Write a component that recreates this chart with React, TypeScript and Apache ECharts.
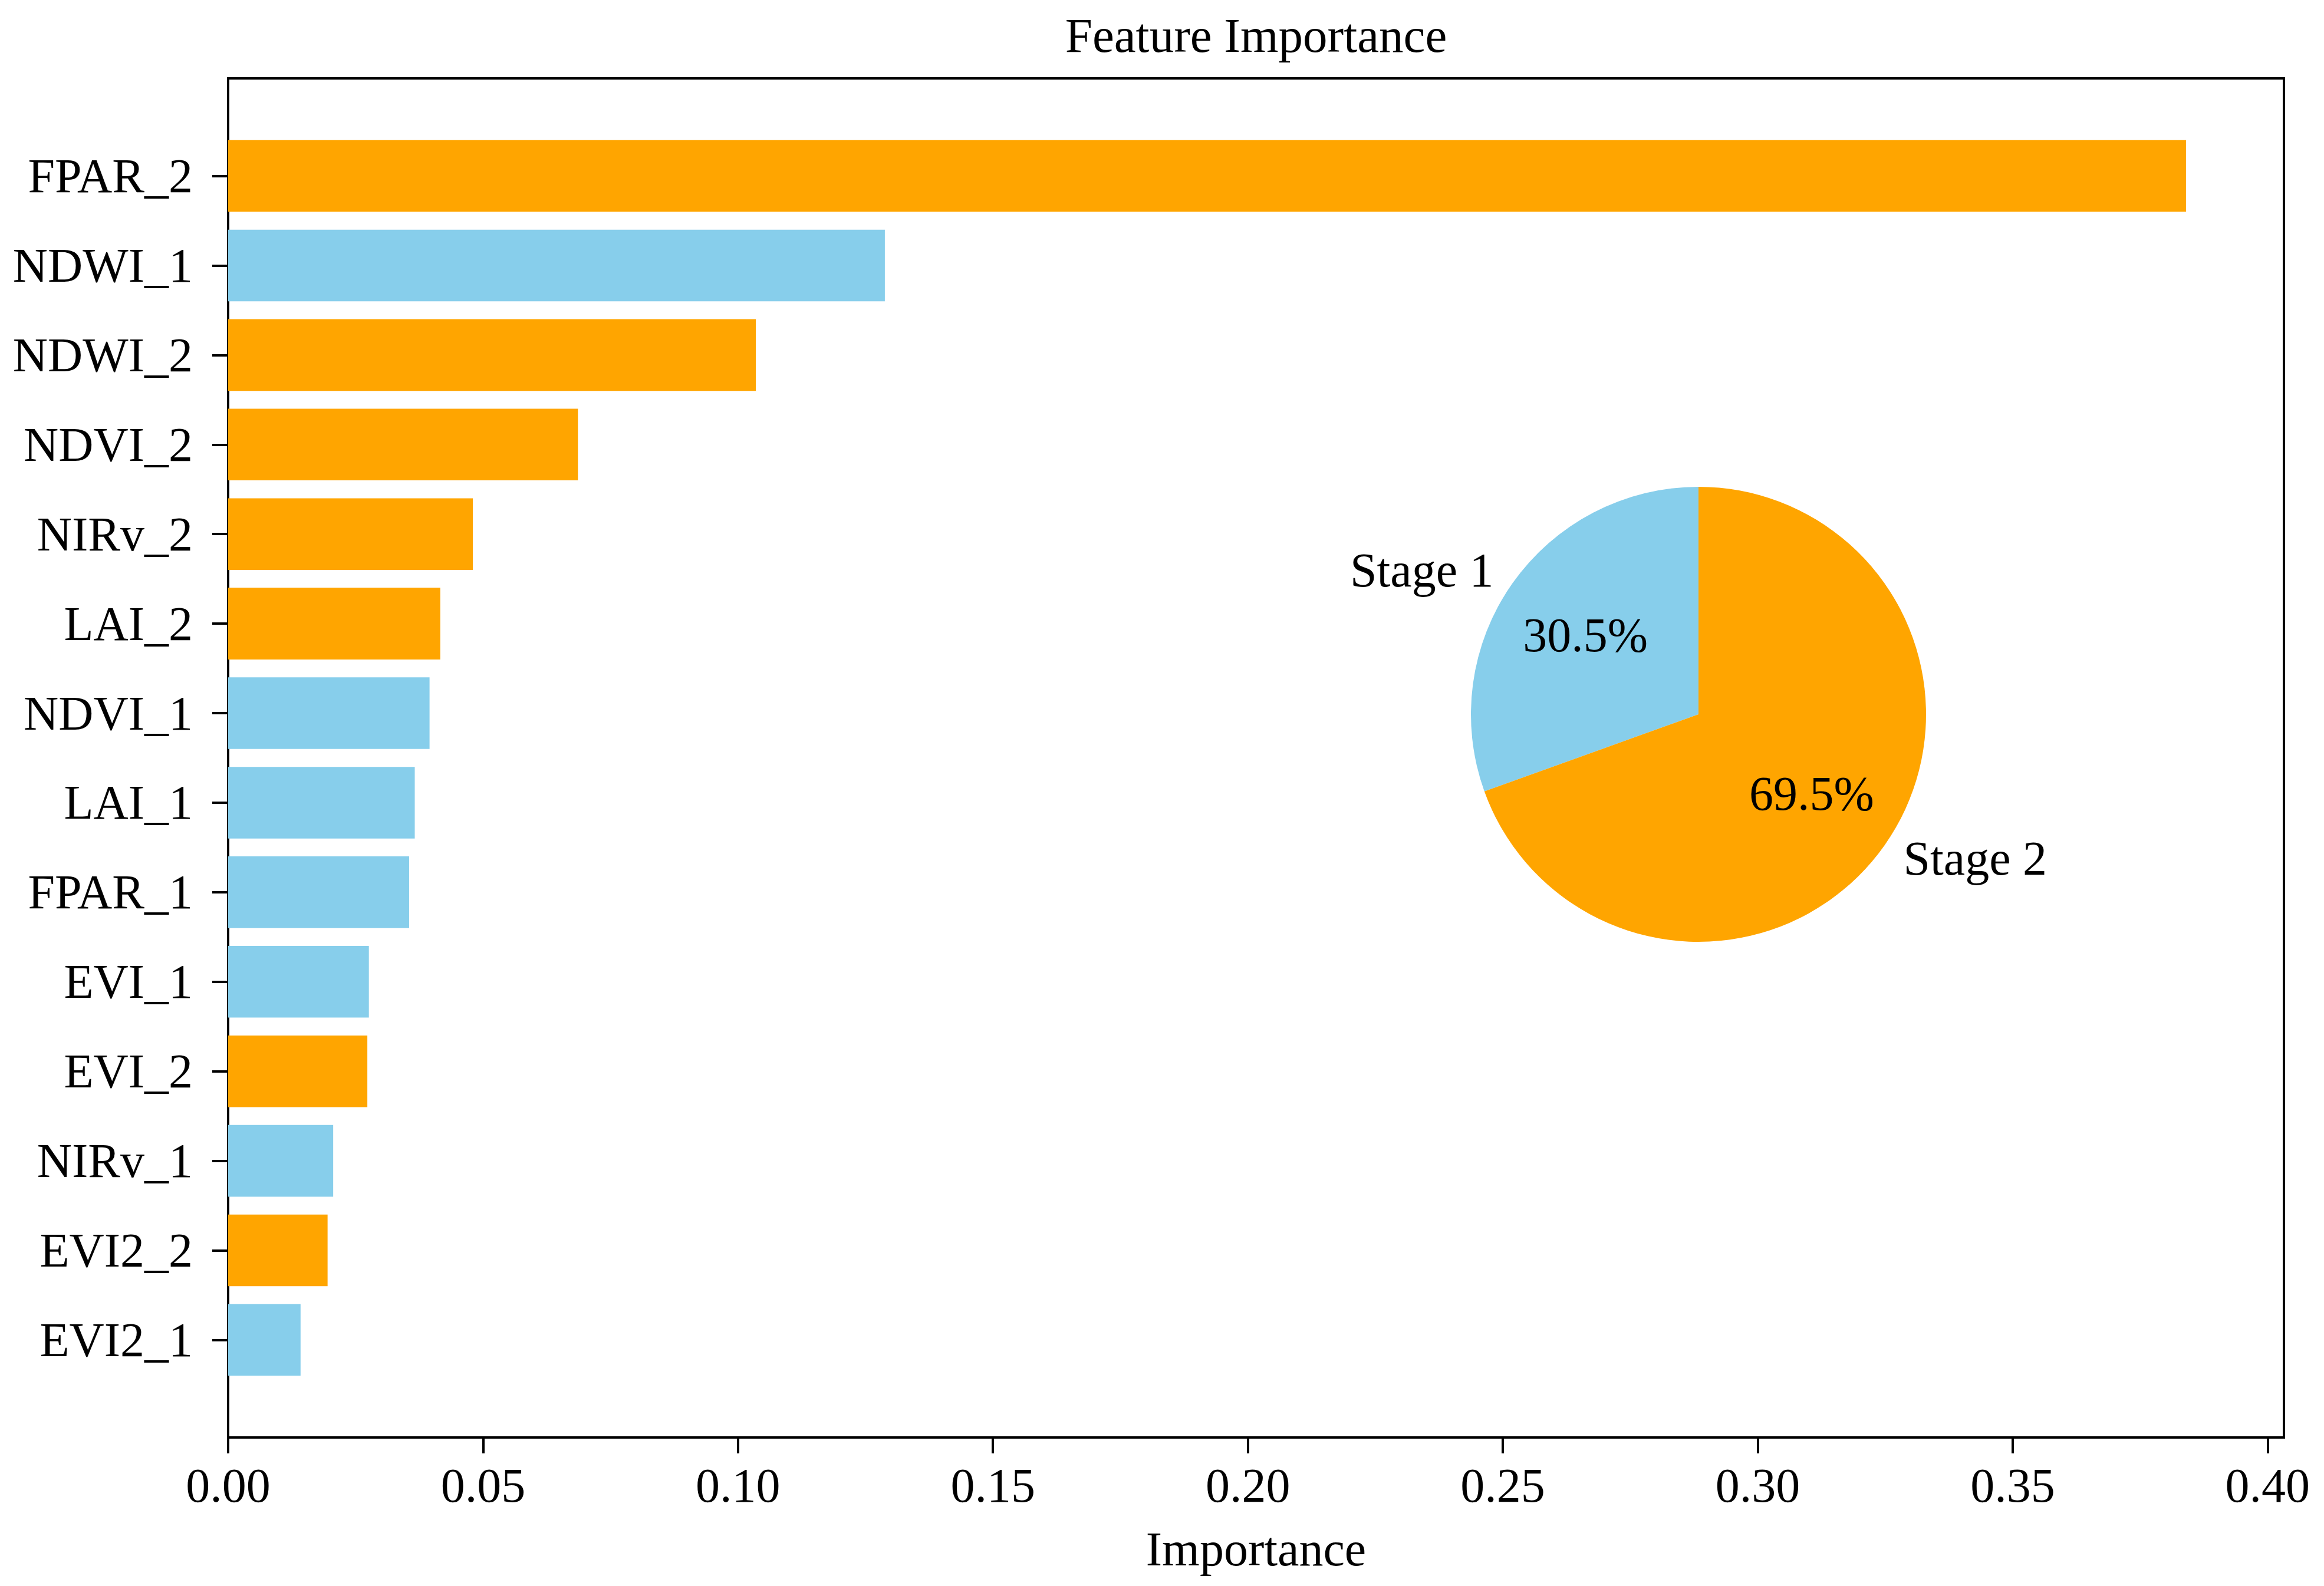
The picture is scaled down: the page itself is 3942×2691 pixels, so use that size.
import React, { useEffect, useRef } from "react";
import * as echarts from "echarts";

const features = [
  "FPAR_2", "NDWI_1", "NDWI_2", "NDVI_2", "NIRv_2", "LAI_2", "NDVI_1",
  "LAI_1", "FPAR_1", "EVI_1", "EVI_2", "NIRv_1", "EVI2_2", "EVI2_1",
];
const importance = [
  0.384, 0.1288, 0.1035, 0.0686, 0.048, 0.0416, 0.0395,
  0.0366, 0.0355, 0.0276, 0.0273, 0.0206, 0.0195, 0.0142,
];
const stageOf = [2, 1, 2, 2, 2, 2, 1, 1, 1, 1, 2, 1, 2, 1];
const xTicks = [0, 0.05, 0.1, 0.15, 0.2, 0.25, 0.3, 0.35, 0.4];
const pieNames = ["Stage 1", "Stage 2"];
const piePercents = [30.5, 69.5];

const BLUE = "#87CEEB";
const ORANGE = "#FFA500";
const FONT = "'Liberation Serif', 'Times New Roman', serif";
const FS = 82;

export default function App() {
  const ref = useRef<HTMLDivElement>(null);
  useEffect(() => {
    if (!ref.current) return;
    const chart = echarts.init(ref.current, null, { renderer: "svg" });
    const R = 386;
    const center = [2881, 1212];
    const xMax = 0.4032;
    const plotLeft = 387;
    const plotRight = 68;
    const option = {
      animation: false,
      backgroundColor: "#fff",
      graphic: [
        {
          type: "text",
          x: (plotLeft + (3942 - plotRight)) / 2,
          y: 60,
          style: {
            text: "Feature Importance",
            fontFamily: FONT,
            fontSize: 83,
            fill: "#000",
            align: "center",
            verticalAlign: "middle",
          },
        },
      ],
      grid: [
        { left: plotLeft, right: plotRight, top: 133, bottom: 252, show: true, borderColor: "#000", borderWidth: 4, backgroundColor: "transparent" },
        { left: plotLeft, right: plotRight, top: 222.6, bottom: 341.6 },
      ],
      xAxis: [
        {
          type: "value",
          gridIndex: 0,
          min: 0,
          max: xMax,
          interval: 0.05,
          splitLine: { show: false },
          axisLine: { show: true, lineStyle: { color: "#000", width: 4 } },
          axisTick: { show: true, length: 27, lineStyle: { color: "#000", width: 4 }, customValues: xTicks },
          axisLabel: {
            fontFamily: FONT,
            fontSize: FS,
            color: "#000",
            margin: 40,
            customValues: xTicks,
            formatter: (v: number) => v.toFixed(2),
          },
          name: "Importance",
          nameLocation: "middle",
          nameGap: 148,
          nameTextStyle: { fontFamily: FONT, fontSize: FS, color: "#000" },
        },
        { type: "value", gridIndex: 1, min: 0, max: xMax, show: false, splitLine: { show: false } },
      ],
      yAxis: [
        { type: "value", gridIndex: 0, show: false, splitLine: { show: false } },
        {
          type: "category",
          gridIndex: 1,
          data: features,
          inverse: true,
          axisLine: { show: false },
          axisTick: { show: true, alignWithLabel: true, length: 27, lineStyle: { color: "#000", width: 4 } },
          axisLabel: { fontFamily: FONT, fontSize: FS, color: "#000", margin: 60 },
          splitLine: { show: false },
        },
      ],
      series: [
        {
          type: "bar",
          xAxisIndex: 1,
          yAxisIndex: 1,
          barCategoryGap: "20%",
          data: importance.map((v, i) => ({
            value: v,
            itemStyle: { color: stageOf[i] === 1 ? BLUE : ORANGE },
          })),
        },
        {
          type: "pie",
          center,
          radius: [0, R],
          startAngle: 90,
          clockwise: false,
          avoidLabelOverlap: false,
          silent: true,
          data: pieNames.map((n, i) => ({
            name: n,
            value: piePercents[i],
            itemStyle: { color: i === 0 ? BLUE : ORANGE },
          })),
          label: {
            show: true,
            position: "outer",
            alignTo: "none",
            distanceToLabelLine: 0,
            formatter: "{b}",
            fontFamily: FONT,
            fontSize: FS,
            color: "#000",
          },
          labelLine: { show: false, length: R * 0.1, length2: 0 },
          z: 5,
        },
        {
          type: "pie",
          center,
          radius: [R * 0.2, R],
          startAngle: 90,
          clockwise: false,
          avoidLabelOverlap: false,
          silent: true,
          data: pieNames.map((n, i) => ({
            name: n,
            value: piePercents[i],
            itemStyle: { color: "rgba(0,0,0,0)" },
          })),
          label: {
            show: true,
            position: "inside",
            formatter: (p: any) => p.value.toFixed(1) + "%",
            fontFamily: FONT,
            fontSize: FS,
            color: "#000",
          },
          labelLine: { show: false },
          z: 6,
        },
      ],
    };
    chart.setOption(option as any);
    return () => chart.dispose();
  }, []);
  return (
    <div
      ref={ref}
      style={{ position: "absolute", left: 0, top: 0, width: 3942, height: 2691 }}
    />
  );
}
